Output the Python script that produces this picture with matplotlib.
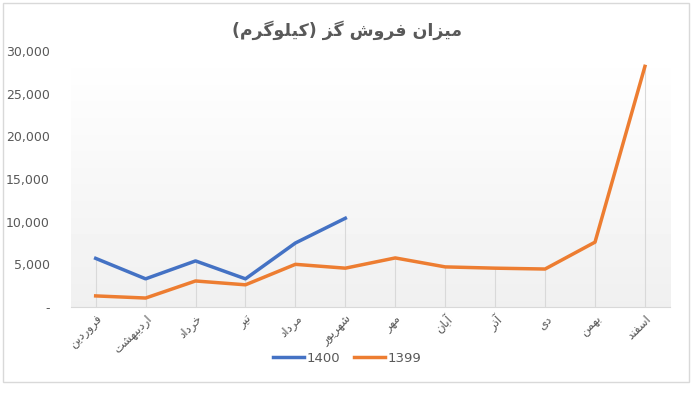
import matplotlib
matplotlib.use("Agg")
import matplotlib.pyplot as plt
import numpy as np
from matplotlib.ticker import FuncFormatter
from matplotlib.patches import Rectangle


TITLE = "میزان فروش گز (کیلوگرم)"
MONTHS = ["فروردین", "اردیبهشت", "خرداد", "تیر", "مرداد", "شهریور",
          "مهر", "آبان", "آذر", "دی", "بهمن", "اسفند"]
SALES_1400 = [5700, 3300, 5400, 3300, 7500, 10400]
SALES_1399 = [1300, 1050, 3050, 2600, 5000, 4550, 5750, 4700, 4550, 4450, 7600, 28200]
SERIES_NAMES = ["1400", "1399"]

BLUE = "#4472C4"
ORANGE = "#ED7D31"
TEXT = "#595959"

# matplotlib has no Arabic shaping, so pick presentation forms by hand
# (isolated, final, initial, medial); None = letter does not join forward
FORMS = {
    "ا": ("\uFE8D", "\uFE8E", None, None),
    "آ": ("\uFE81", "\uFE82", None, None),
    "ب": ("\uFE8F", "\uFE90", "\uFE91", "\uFE92"),
    "ت": ("\uFE95", "\uFE96", "\uFE97", "\uFE98"),
    "خ": ("\uFEA5", "\uFEA6", "\uFEA7", "\uFEA8"),
    "د": ("\uFEA9", "\uFEAA", None, None),
    "ذ": ("\uFEAB", "\uFEAC", None, None),
    "ر": ("\uFEAD", "\uFEAE", None, None),
    "ز": ("\uFEAF", "\uFEB0", None, None),
    "س": ("\uFEB1", "\uFEB2", "\uFEB3", "\uFEB4"),
    "ش": ("\uFEB5", "\uFEB6", "\uFEB7", "\uFEB8"),
    "ف": ("\uFED1", "\uFED2", "\uFED3", "\uFED4"),
    "ل": ("\uFEDD", "\uFEDE", "\uFEDF", "\uFEE0"),
    "م": ("\uFEE1", "\uFEE2", "\uFEE3", "\uFEE4"),
    "ن": ("\uFEE5", "\uFEE6", "\uFEE7", "\uFEE8"),
    "ه": ("\uFEE9", "\uFEEA", "\uFEEB", "\uFEEC"),
    "و": ("\uFEED", "\uFEEE", None, None),
    "ی": ("\uFBFC", "\uFBFD", "\uFBFE", "\uFBFF"),
    "ک": ("\uFB8E", "\uFB8F", "\uFB90", "\uFB91"),
    "گ": ("\uFB92", "\uFB93", "\uFB94", "\uFB95"),
}


def shape(text):
    out = []
    for i, ch in enumerate(text):
        if ch not in FORMS:
            out.append(ch)
            continue
        iso, fin, ini, med = FORMS[ch]
        prev = text[i - 1] if i > 0 else ""
        nxt = text[i + 1] if i + 1 < len(text) else ""
        joins_prev = prev in FORMS and FORMS[prev][2] is not None
        joins_next = nxt in FORMS and ini is not None
        if joins_prev and joins_next:
            out.append(med)
        elif joins_prev:
            out.append(fin)
        elif joins_next:
            out.append(ini)
        else:
            out.append(iso)
    mirror = {"(": ")", ")": "("}
    return "".join(mirror.get(c, c) for c in reversed(out))


def main():
    fig = plt.figure(figsize=(7, 4), dpi=100)
    ax = fig.add_axes([0.101, 0.2325, 0.856, 0.64])

    x = np.arange(len(MONTHS))

    # soft grey gradient in the plot area
    grad = np.linspace(1.0, 0.94, 256).reshape(-1, 1)
    ax.imshow(grad, cmap="gray", vmin=0, vmax=1, aspect="auto",
              extent=(-0.5, 11.5, 0, 30000), zorder=0)

    tops = [max(SALES_1399[i], SALES_1400[i] if i < len(SALES_1400) else 0)
            for i in range(len(MONTHS))]
    ax.vlines(x, 0, tops, color="#D9D9D9", linewidth=0.8, zorder=1)

    ax.plot(x[:len(SALES_1400)], SALES_1400, color=BLUE, linewidth=2.5,
            label=SERIES_NAMES[0], zorder=3, solid_joinstyle="round")
    ax.plot(x, SALES_1399, color=ORANGE, linewidth=2.5,
            label=SERIES_NAMES[1], zorder=2, solid_joinstyle="round")

    ax.set_xlim(-0.5, 11.5)
    ax.set_ylim(0, 30000)
    ax.set_yticks(range(0, 30001, 5000))
    ax.yaxis.set_major_formatter(
        FuncFormatter(lambda v, _: "-" if v == 0 else f"{int(v):,}"))
    ax.tick_params(axis="y", length=0, pad=15, labelsize=9, labelcolor=TEXT)
    ax.tick_params(axis="x", length=0, pad=4)

    ax.set_xticks(x)
    ax.set_xticklabels([shape(m) for m in MONTHS], rotation=45, ha="right",
                       rotation_mode="anchor", fontsize=8.5, color=TEXT,
                       family="DejaVu Sans")

    for side in ["top", "right", "left"]:
        ax.spines[side].set_visible(False)
    ax.spines["bottom"].set_color("#D9D9D9")

    fig.text(0.496, 0.925, shape(TITLE), ha="center", va="center",
             fontsize=12.5, fontweight="bold", color=TEXT, family="DejaVu Sans")

    fig.legend(loc="center", bbox_to_anchor=(0.496, 0.105), ncol=2,
               frameon=False, fontsize=9.5, handlelength=2.4, columnspacing=1.0,
               handletextpad=0.2, labelcolor=TEXT)

    fig.patches.append(Rectangle((0.004, 0.045), 0.981, 0.948,
                                 transform=fig.transFigure, fill=False,
                                 edgecolor="#D9D9D9", linewidth=1))

    fig.savefig("out.png", dpi=100)


if __name__ == "__main__":
    main()
